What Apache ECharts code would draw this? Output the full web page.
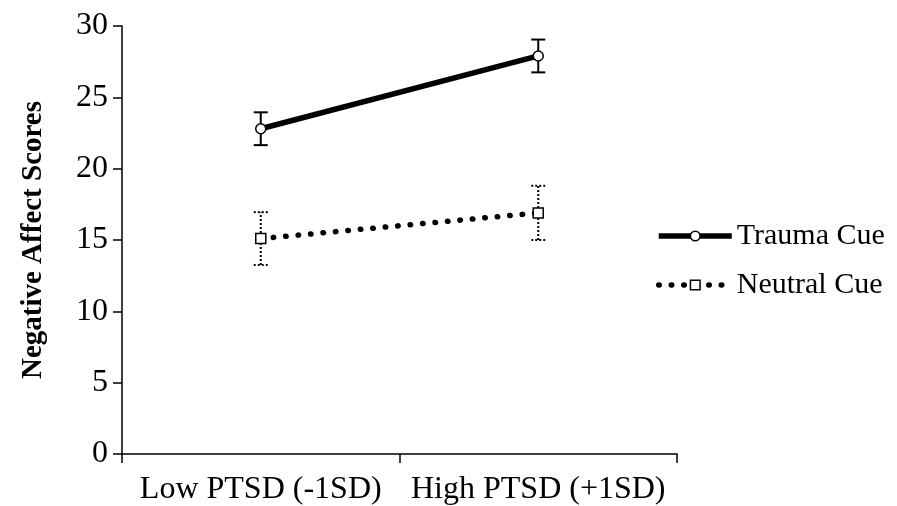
<!DOCTYPE html>
<html>
<head>
<meta charset="utf-8">
<script src="https://cdn.jsdelivr.net/npm/echarts@6/dist/echarts.min.js"></script>
<style>html,body{margin:0;padding:0;background:#fff}#c{width:897px;height:506px}</style>
</head>
<body>
<div id="c"></div>
<script>
const categories = ['Low PTSD (-1SD)', 'High PTSD (+1SD)'];
const seriesNames = ['Trauma Cue', 'Neutral Cue'];
const traumaValues = [22.8, 27.9];
const traumaErr = [1.15, 1.15];
const neutralValues = [15.1, 16.9];
const neutralErr = [1.85, 1.9];
const yTicks = [0, 5, 10, 15, 20, 25, 30];
const yTitle = 'Negative Affect Scores';

const FONT = '"Liberation Serif", "Times New Roman", serif';

function errData(vals, errs) {
  return vals.map((v, i) => [i, v - errs[i], v + errs[i]]);
}
function errRender(dashed) {
  return function (params, api) {
    const lo = api.coord([api.value(0), api.value(1)]);
    const hi = api.coord([api.value(0), api.value(2)]);
    const w = 7;
    const style = { stroke: '#000', lineWidth: 2, lineDash: dashed ? [2, 2] : null, fill: null };
    return {
      type: 'group',
      children: [
        { type: 'line', shape: { x1: lo[0], y1: lo[1], x2: hi[0], y2: hi[1] }, style: style },
        { type: 'line', shape: { x1: hi[0] - w, y1: hi[1], x2: hi[0] + w, y2: hi[1] }, style: style },
        { type: 'line', shape: { x1: lo[0] - w, y1: lo[1], x2: lo[0] + w, y2: lo[1] }, style: style }
      ]
    };
  };
}

const dotted = { color: '#000', width: 5.5, type: [0.5, 12], cap: 'round' };

const chart = echarts.init(document.getElementById('c'), null, { renderer: 'canvas' });
chart.setOption({
  animation: false,
  backgroundColor: '#fff',
  grid: { left: 122, right: 220, top: 26, bottom: 51, containLabel: false },
  legend: [
    {
      data: [seriesNames[0]], orient: 'vertical', left: 656, top: 221,
      itemWidth: 73, itemHeight: 12, itemGap: 0, itemStyle: { borderWidth: 1.5 },
      lineStyle: { color: '#000', width: 5.5 },
      textStyle: { fontFamily: FONT, fontSize: 30, color: '#000' },
      padding: 0
    },
    {
      data: [seriesNames[1]], orient: 'vertical', left: 656, top: 270,
      itemWidth: 73, itemHeight: 12, itemGap: 0, itemStyle: { borderWidth: 1.5 },
      lineStyle: dotted,
      textStyle: { fontFamily: FONT, fontSize: 30, color: '#000' },
      padding: 0
    }
  ],
  xAxis: {
    type: 'category', data: categories, boundaryGap: true,
    axisLine: { lineStyle: { color: '#000', width: 1.5 } },
    axisTick: { show: true, interval: 0, length: 9, lineStyle: { color: '#000', width: 1.5 } },
    axisLabel: { interval: 0, hideOverlap: false, fontFamily: FONT, fontSize: 32, color: '#000', margin: 20 },
    splitLine: { show: false }
  },
  yAxis: {
    type: 'value', min: yTicks[0], max: yTicks[yTicks.length - 1], interval: 5,
    name: yTitle, nameLocation: 'middle', nameGap: 74, nameRotate: 90,
    nameTextStyle: { fontFamily: FONT, fontSize: 29, fontWeight: 'bold', color: '#000' },
    axisLine: { show: true, lineStyle: { color: '#000', width: 1.5 } },
    axisTick: { show: true, length: 9, lineStyle: { color: '#000', width: 1.5 } },
    axisLabel: { fontFamily: FONT, fontSize: 32, color: '#000', margin: 14 },
    splitLine: { show: false }
  },
  series: [
    {
      type: 'custom', name: 'errT', renderItem: errRender(false), data: errData(traumaValues, traumaErr), z: 1, silent: true
    },
    {
      type: 'custom', name: 'errN', renderItem: errRender(true), data: errData(neutralValues, neutralErr), z: 1, silent: true
    },
    {
      type: 'line', name: seriesNames[0], data: traumaValues, z: 5,
      symbol: 'circle', symbolSize: 10,
      itemStyle: { color: '#fff', borderColor: '#000', borderWidth: 1.5 },
      lineStyle: { color: '#000', width: 5.5 }
    },
    {
      type: 'line', name: seriesNames[1], data: neutralValues, z: 5,
      symbol: 'rect', symbolSize: 10,
      itemStyle: { color: '#fff', borderColor: '#000', borderWidth: 1.5 },
      lineStyle: dotted
    }
  ]
});
</script>
</body>
</html>
